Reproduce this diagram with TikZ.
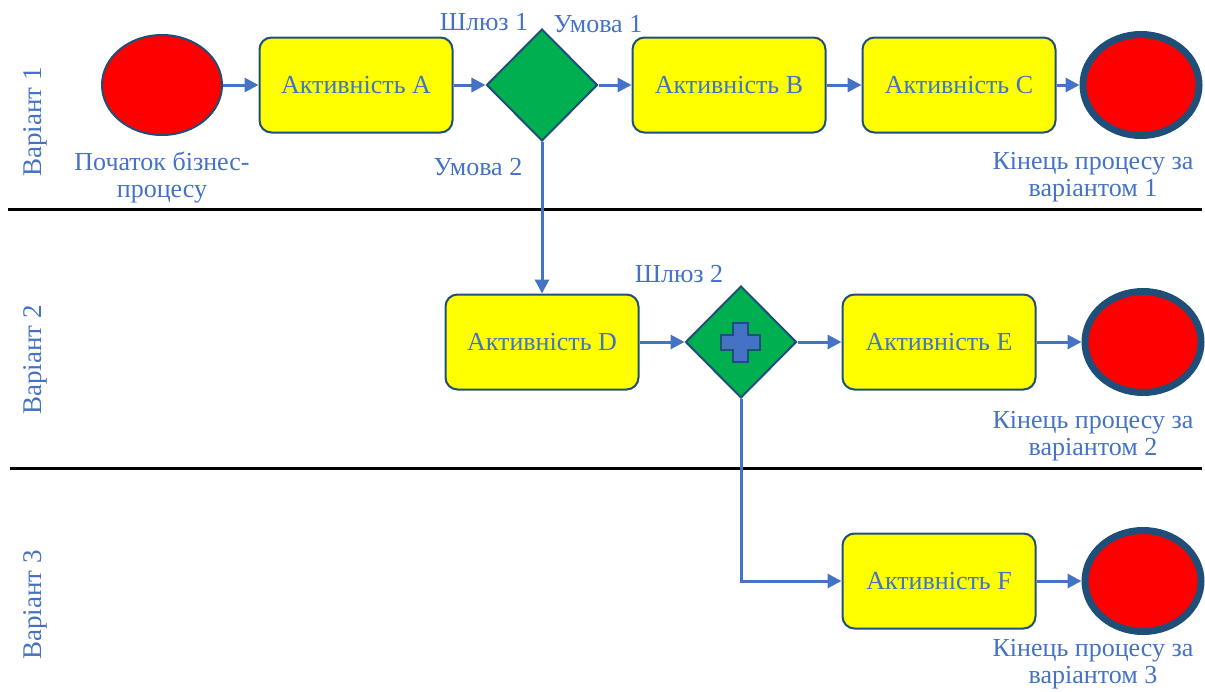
\documentclass[tikz,border=0pt]{standalone}
\usepackage{fontspec}
\setmainfont{Liberation Serif}
\usetikzlibrary{shapes.geometric,arrows.meta}
\definecolor{txtblue}{HTML}{4472C4}
\definecolor{edgeblue}{HTML}{1F4E79}
\definecolor{gwgreen}{HTML}{00B050}
\definecolor{actyellow}{HTML}{FFFF00}
\definecolor{evred}{HTML}{FF0000}
\tikzset{
  activity/.style={draw=edgeblue,line width=2pt,fill=actyellow,rounded corners=12pt,
    minimum width=193pt,minimum height=95pt,text=txtblue,font=\fontsize{26}{28}\selectfont},
  startev/.style={ellipse,draw=edgeblue,line width=2pt,fill=evred,minimum width=120pt,minimum height=100pt},
  endev/.style={ellipse,draw=edgeblue,line width=7pt,fill=evred,minimum width=116pt,minimum height=101pt},
  gateway/.style={diamond,draw=edgeblue,line width=2pt,fill=gwgreen,inner sep=0pt,minimum width=111pt,minimum height=112pt},
  lbl/.style={text=txtblue,align=center,font=\fontsize{26}{27}\selectfont},
  lanelbl/.style={text=txtblue,rotate=90,font=\fontsize{27}{28}\selectfont},
  flow/.style={draw=txtblue,line width=3pt,-{Triangle[length=14pt,width=14pt]}},
  lane/.style={line width=3pt,black}
}
\begin{document}
\begin{tikzpicture}[x=1pt,y=-1pt]
\useasboundingbox (0,0) rectangle (1205,691);
\draw[lane] (8,209)--(1202,209);
\draw[lane] (10,468)--(1202,468);
\node[lanelbl] (v1) at (35,122) {Варіант 1};
\node[lanelbl] (v2) at (35,360) {Варіант 2};
\node[lanelbl] (v3) at (35,605) {Варіант 3};
\node[startev] (s) at (162,85) {};
\node[activity] (a) at (356,85) {Активність A};
\node[gateway] (g1) at (542,85) {};
\node[activity] (b) at (729,85) {Активність B};
\node[activity] (c) at (959,85) {Активність C};
\node[endev] (e1) at (1141,85) {};
\node[activity] (d) at (542,342) {Активність D};
\node[gateway] (g2) at (741,342) {};
\node[activity] (e) at (939,342) {Активність E};
\node[endev] (e2) at (1143,342) {};
\node[activity] (f) at (939,581) {Активність F};
\node[endev] (e3) at (1143,581) {};
\filldraw[fill=txtblue,draw=edgeblue,line width=1.5pt]
  (733,323)--(748,323)--(748,335)--(760,335)--(760,350)--(748,350)--(748,362)
  --(733,362)--(733,350)--(721,350)--(721,335)--(733,335)--cycle;
\node[lbl] (sl) at (162,177) {Початок бізнес-\\процесу};
\node[lbl] (gl1) at (484,22) {Шлюз 1};
\node[lbl] (c1) at (598,24) {Умова 1};
\node[lbl] (c2) at (478,167) {Умова 2};
\node[lbl] (el1) at (1093,177) {Кінець процесу за\\варіантом 1};
\node[lbl] (gl2) at (679,274) {Шлюз 2};
\node[lbl] (el2) at (1093,436) {Кінець процесу за\\варіантом 2};
\node[lbl] (el3) at (1093,664) {Кінець процесу за\\варіантом 3};
\draw[flow] (s) -- (a);
\draw[flow] (a) -- (g1);
\draw[flow] (g1) -- (b);
\draw[flow] (b) -- (c);
\draw[flow] (c) -- (e1);
\draw[flow] (g1.south) -- (d.north);
\draw[flow] (d) -- (g2);
\draw[flow] (g2) -- (e);
\draw[flow] (e) -- (e2);
\draw[flow] (g2.south) |- (f.west);
\draw[flow] (f) -- (e3);
\end{tikzpicture}
\end{document}
